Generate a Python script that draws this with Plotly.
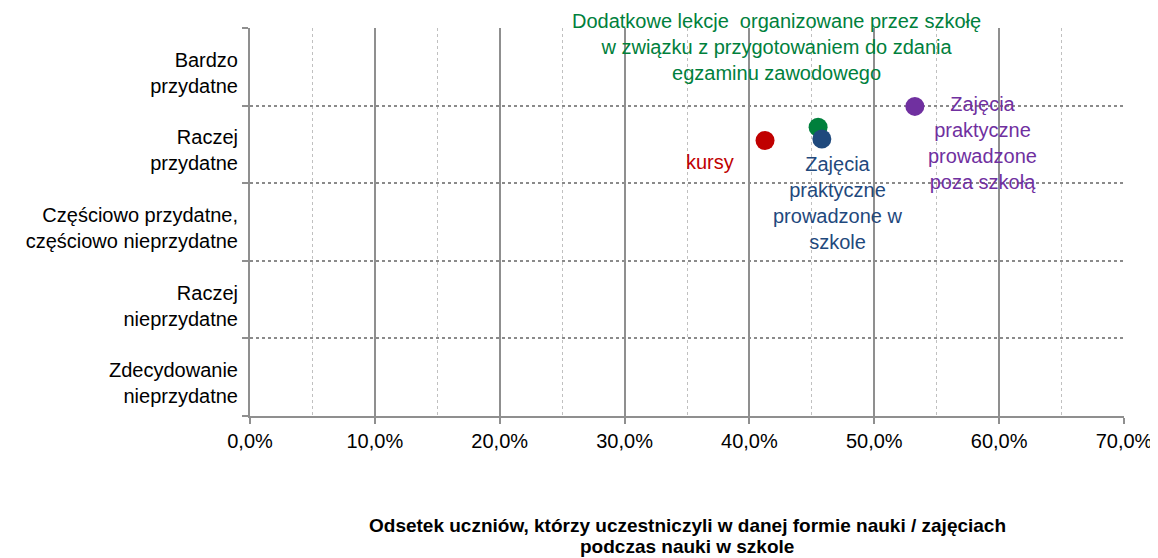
import plotly.graph_objects as go

# Data
forms = ["kursy",
         "Dodatkowe lekcje  organizowane przez szkołę<br>w związku z przygotowaniem do zdania<br>egzaminu zawodowego",
         "Zajęcia<br>praktyczne<br>prowadzone w<br>szkole",
         "Zajęcia<br>praktyczne<br>prowadzone<br>poza szkołą"]
share = [0.4125, 0.455, 0.458, 0.5325]          # x: odsetek uczniów
usefulness = [1.95, 1.78, 1.93, 1.51]           # y: 1 = bardzo przydatne ... 5 = zdecydowanie nieprzydatne
colors = ["#C00000", "#00803C", "#1F497D", "#7030A0"]
label_shift = [(-55, -21), (-42, 80), (16, -64), (68, -37)]

y_labels = ["Bardzo<br>przydatne", "Raczej<br>przydatne",
            "Częściowo przydatne,<br>częściowo nieprzydatne",
            "Raczej<br>nieprzydatne", "Zdecydowanie<br>nieprzydatne"]
y_vals = [1, 2, 3, 4, 5]
y_bounds = [0.5, 1.5, 2.5, 3.5, 4.5, 5.5]
x_ticks = [0, 0.1, 0.2, 0.3, 0.4, 0.5, 0.6, 0.7]
x_title_lines = ["Odsetek uczniów, którzy uczestniczyli w danej formie nauki / zajęciach",
                 "podczas nauki w szkole"]

FONT = "Liberation Sans, Arial, sans-serif"

fig = go.Figure()
for i in range(len(forms)):
    fig.add_trace(go.Scatter(
        x=[share[i]], y=[usefulness[i]], mode="markers",
        marker=dict(size=19, color=colors[i], line=dict(width=0)),
        showlegend=False, hoverinfo="skip"))
    fig.add_annotation(
        x=share[i], y=usefulness[i], xref="x", yref="y",
        text=forms[i], showarrow=False,
        xanchor="center", yanchor="middle",
        xshift=label_shift[i][0], yshift=label_shift[i][1],
        font=dict(family=FONT, size=20, color=colors[i]))

for j, line in enumerate(x_title_lines):
    fig.add_annotation(
        x=0.5, y=0, xref="paper", yref="paper", text=line, showarrow=False,
        xanchor="center", yanchor="middle", yshift=-109 - 21 * j,
        font=dict(family=FONT, size=19, color="#000000", weight="bold"))

# page body has an 8px default margin, so the figure is sized to fit the window
fig.update_layout(
    width=1150, height=550,
    margin=dict(l=242, r=34, t=20, b=142),
    paper_bgcolor="white", plot_bgcolor="white",
    separators=",.",
    font=dict(family=FONT, size=19, color="#000000"),
    xaxis=dict(
        range=[0, 0.7], tickvals=x_ticks, tickformat=".1%",
        automargin=False,
        showgrid=True, gridcolor="#8f8f8f", gridwidth=2,
        showline=True, linecolor="#8f8f8f", linewidth=2,
        ticks="outside", ticklen=6, tickcolor="#8f8f8f", tickwidth=2,
        zeroline=False,
        minor=dict(tickvals=[0.05, 0.15, 0.25, 0.35, 0.45, 0.55, 0.65],
                   showgrid=True, gridcolor="#c0c0c0", griddash="dot", gridwidth=1,
                   ticks=""),
        tickfont=dict(size=20, color="#000000"),
    ),
    yaxis=dict(
        range=[5.5, 0.5], tickvals=y_vals, ticktext=y_labels,
        automargin=False,
        showgrid=False, zeroline=False,
        showline=True, linecolor="#8f8f8f", linewidth=2,
        ticks="", ticklabelstandoff=6, ticklabelshift=-6,
        minor=dict(tickvals=y_bounds, showgrid=True, gridcolor="#8a8a8a",
                   griddash="dot", gridwidth=1.5,
                   ticks="outside", ticklen=6, tickcolor="#8f8f8f", tickwidth=2),
        tickfont=dict(size=20, color="#000000"),
    ),
)

fig.write_html("out.html")
